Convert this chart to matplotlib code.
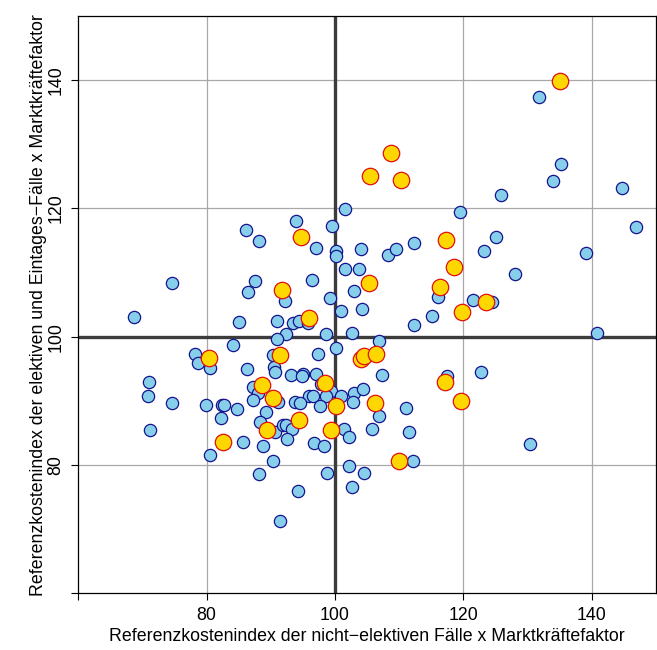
import matplotlib
matplotlib.use("Agg")
import matplotlib.pyplot as plt

plt.rcParams["font.family"] = ["Liberation Sans", "DejaVu Sans"]

# Referenzkostenindex (nicht-elektiv, elektiv/Eintages) x Marktkräftefaktor
blue_x = [101.6, 94.0, 86.1, 99.6, 88.2, 97.0, 100.2, 100.1, 104.1, 108.2,
          109.5, 101.5, 103.7, 74.6, 87.5, 96.4, 86.5, 102.9, 99.2, 92.2,
          100.9, 104.2, 91.0, 93.5, 94.4, 95.8, 92.3, 91.0, 98.6, 102.7,
          106.9, 100.2, 97.3, 90.4, 90.5, 90.7, 107.3, 93.1, 95.1, 94.8,
          97.0, 68.7, 85.0, 84.1, 78.2, 78.7, 80.5, 86.3, 71.0, 70.9,
          74.6, 71.2, 87.2, 88.0, 87.2, 97.9, 99.4, 96.0, 96.6, 98.6,
          100.9, 103.0, 102.8, 104.4, 79.9, 82.4, 82.7, 84.7, 82.2, 89.3,
          91.1, 93.7, 94.5, 97.7, 106.8, 88.3, 90.7, 91.9, 92.4, 93.3,
          92.5, 101.4, 102.2, 105.8, 85.6, 88.8, 96.8, 98.3, 80.6, 90.4,
          88.2, 98.8, 102.2, 104.5, 94.2, 102.6, 91.4,
          131.8, 135.3, 134.0, 144.7, 125.9, 119.5, 146.9, 125.1, 112.4, 123.3,
          139.1, 128.1, 116.0, 121.6, 124.5, 115.2, 112.4, 140.8, 122.7, 117.5,
          111.1, 111.5, 130.4, 112.2]
blue_y = [119.9, 118.0, 116.7, 117.2, 115.0, 113.8, 113.4, 112.6, 113.6, 112.7,
          113.7, 110.5, 110.5, 108.4, 108.7, 108.9, 106.9, 107.1, 106.0, 105.5,
          104.0, 104.3, 102.4, 102.1, 102.5, 102.1, 100.4, 99.7, 100.5, 100.6,
          99.4, 98.3, 97.3, 97.2, 95.3, 94.5, 94.1, 94.1, 94.2, 93.9,
          94.2, 103.1, 102.3, 98.7, 97.3, 95.9, 95.1, 94.9, 92.9, 90.8,
          89.6, 85.4, 92.1, 91.3, 90.1, 92.7, 91.6, 90.7, 90.8, 90.7,
          90.7, 91.3, 89.9, 91.8, 89.4, 89.4, 89.3, 88.7, 87.3, 88.3,
          89.9, 89.9, 89.7, 89.2, 87.7, 86.7, 85.1, 86.2, 86.3, 85.6,
          84.0, 85.6, 84.3, 85.6, 83.6, 83.0, 83.4, 83.0, 81.6, 80.6,
          78.6, 78.8, 79.9, 78.7, 76.0, 76.5, 71.3,
          137.4, 127.0, 124.3, 123.2, 122.1, 119.5, 117.1, 115.6, 114.6, 113.4,
          113.1, 109.8, 106.2, 105.8, 105.4, 103.3, 101.8, 100.6, 94.5, 93.9,
          88.9, 85.1, 83.3, 80.6]

gold_x = [135.1, 108.8, 105.5, 110.3, 94.7, 117.3, 118.6, 91.7, 105.3, 116.4,
          123.6, 119.8, 96.0, 80.4, 91.4, 104.0, 104.6, 106.4, 98.5, 88.6,
          117.1, 90.3, 100.2, 106.2, 119.6, 94.4, 89.4, 99.4, 82.6, 110.0]
gold_y = [139.8, 128.7, 125.1, 124.4, 115.6, 115.1, 110.9, 107.3, 108.3, 107.8,
          105.4, 103.8, 102.9, 96.7, 97.2, 96.5, 97.0, 97.3, 92.8, 92.5,
          92.9, 90.4, 89.2, 89.6, 90.0, 87.0, 85.5, 85.5, 83.6, 80.6]

tick_values = [60, 80, 100, 120, 140]
tick_labels = ["", "80", "100", "120", "140"]
reference = 100

fig = plt.figure(figsize=(6.57, 6.50), dpi=100)
ax = fig.add_axes([0.1192, 0.0872, 0.8788, 0.8882])
ax.set_xlim(60, 150)
ax.set_ylim(60, 150)

for v in tick_values[1:]:
    if v == reference:
        continue
    ax.axvline(v, color="#a8a8a8", lw=0.9, zorder=1)
    ax.axhline(v, color="#a8a8a8", lw=0.9, zorder=1)
ax.axvline(reference, color="#3c3c3c", lw=2.4, zorder=2)
ax.axhline(reference, color="#3c3c3c", lw=2.4, zorder=2)

ax.scatter(blue_x, blue_y, s=78, facecolor="#87CEEB", edgecolor="#14148c",
           linewidth=0.9, zorder=3)
ax.scatter(gold_x, gold_y, s=140, facecolor="#FFD700", edgecolor="#e01010",
           linewidth=0.9, zorder=4)

ax.set_xticks(tick_values)
ax.set_xticklabels(tick_labels)
ax.set_yticks(tick_values)
ax.set_yticklabels(tick_labels, rotation=90, va="center")
ax.tick_params(axis="both", length=5, width=0.8, labelsize=12.8, pad=5,
               color="black", labelcolor="black")
for sp in ax.spines.values():
    sp.set_linewidth(0.9)
    sp.set_color("black")

ax.set_xlabel("Referenzkostenindex der nicht\u2212elektiven Fälle x Marktkräftefaktor",
              fontsize=12.8, labelpad=2.5)
ax.set_ylabel("Referenzkostenindex der elektiven und Eintages\u2212Fälle x Marktkräftefaktor",
              fontsize=12.8, labelpad=0.5)

fig.savefig("out.png", dpi=100)
